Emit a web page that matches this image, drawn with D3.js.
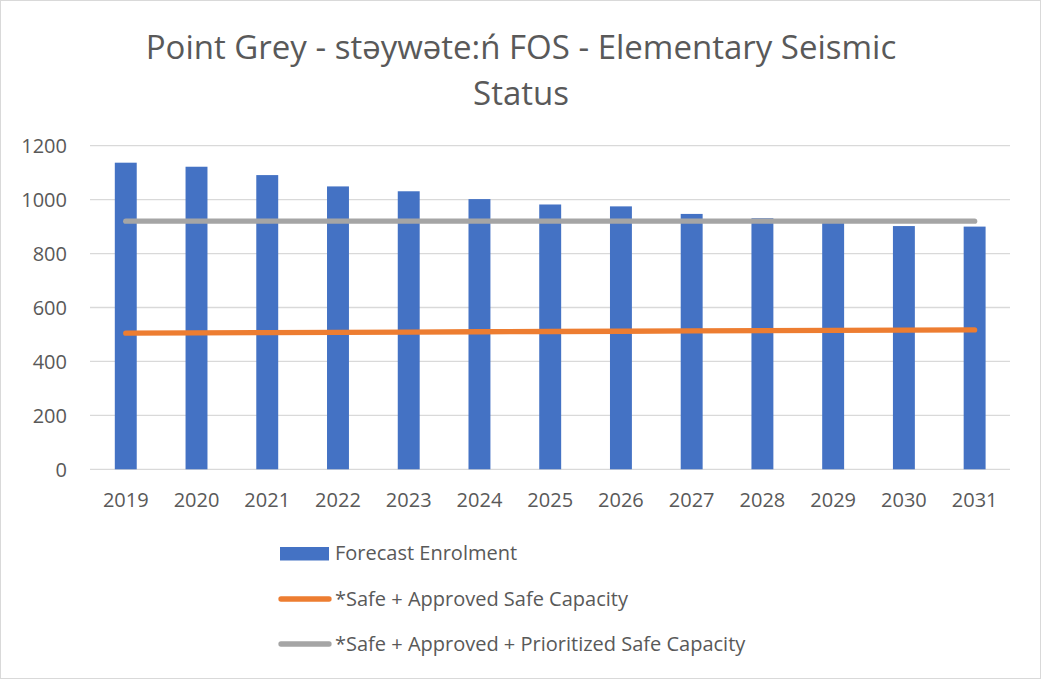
<!DOCTYPE html>
<html><head><meta charset="utf-8">
<script src="https://cdn.jsdelivr.net/npm/d3@7"></script>
<style>body{margin:0;background:#fff;} text{font-family:"Open Sans",sans-serif;fill:#595959;}</style>
</head><body><svg id="c" width="1041" height="679"></svg>
<script>
const years = ["2019","2020","2021","2022","2023","2024","2025","2026","2027","2028","2029","2030","2031"];
const enrolment = [1137,1122,1091,1049,1031,1002,982,975,947,931,918,902,900];
const safeApproved = [505,506,507,508,509,510,511,512,513,514,515,516,517];
const safePrioritized = [920,920,920,920,920,920,920,920,920,920,920,920,920];
const yTicks = [0,200,400,600,800,1000,1200];
const titleLines = ["Point Grey - stəywəte:ń FOS - Elementary Seismic","Status"];
const legendLabels = ["Forecast Enrolment","*Safe + Approved Safe Capacity","*Safe + Approved + Prioritized Safe Capacity"];

const svg = d3.select("#c");
svg.append("rect").attr("x",0.5).attr("y",0.5).attr("width",1040).attr("height",678).attr("fill","#fff").attr("stroke","#d9d9d9");

const x = d3.scaleBand().domain(years).range([90.4,1010]).paddingInner(0.69).paddingOuter(0.345);
const y = d3.scaleLinear().domain([0,1200]).range([469.3,145.7]);

// gridlines
svg.append("g").selectAll("line").data(yTicks).join("line")
  .attr("x1",90).attr("x2",1010).attr("y1",d=>y(d)).attr("y2",d=>y(d))
  .attr("stroke","#d9d9d9").attr("stroke-width",1.3);

// y labels
const yAxis = d3.axisLeft(y).tickValues(yTicks).tickFormat(d3.format("d")).tickSize(0).tickPadding(0);
const gy = svg.append("g").attr("transform","translate(67,0)").call(yAxis);
gy.select(".domain").remove();
gy.selectAll("text").style("font-size","20px").attr("dy","0.35em").attr("fill","#595959");

// bars
svg.append("g").selectAll("rect").data(years).join("rect")
  .attr("x",d=>x(d)).attr("width",x.bandwidth())
  .attr("y",(d,i)=>y(enrolment[i])).attr("height",(d,i)=>y(0)-y(enrolment[i]))
  .attr("fill","#4472c4");

// x labels
const xAxis = d3.axisBottom(x).tickSize(0).tickPadding(0);
const gx = svg.append("g").attr("transform","translate(0,500)").call(xAxis);
gx.select(".domain").remove();
gx.selectAll("text").style("font-size","20px").attr("dy","0.35em").attr("fill","#595959");

const line = d3.line().x((d,i)=>x(years[i])+x.bandwidth()/2).y(d=>y(d));
svg.append("path").datum(safeApproved).attr("d",line).attr("fill","none")
  .attr("stroke","#ed7d31").attr("stroke-width",5.3).attr("stroke-linecap","round");
svg.append("path").datum(safePrioritized).attr("d",line).attr("fill","none")
  .attr("stroke","#a5a5a5").attr("stroke-width",5.3).attr("stroke-linecap","round");

// title
svg.append("g").selectAll("text").data(titleLines).join("text")
  .attr("x",521).attr("y",(d,i)=>47+i*46).attr("dy","0.35em").attr("text-anchor","middle")
  .style("font-size","33px").text(d=>d);

// legend
const lg = svg.append("g");
const ly = [553,599,644];
lg.append("rect").attr("x",280).attr("y",547).attr("width",49).attr("height",13.5).attr("fill","#4472c4");
lg.append("line").attr("x1",281).attr("x2",329).attr("y1",ly[1]).attr("y2",ly[1]).attr("stroke","#ed7d31").attr("stroke-width",5.3).attr("stroke-linecap","round");
lg.append("line").attr("x1",281).attr("x2",329).attr("y1",ly[2]).attr("y2",ly[2]).attr("stroke","#a5a5a5").attr("stroke-width",5.3).attr("stroke-linecap","round");
lg.selectAll("text").data(legendLabels).join("text")
  .attr("x",335).attr("y",(d,i)=>ly[i]).attr("dy","0.35em").style("font-size","20px").text(d=>d);
</script></body></html>
